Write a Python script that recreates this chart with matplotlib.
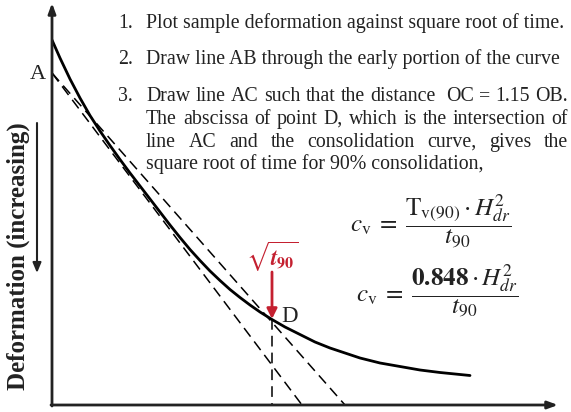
import numpy as np
import matplotlib
matplotlib.use("Agg")
import matplotlib.pyplot as plt

plt.rcParams['font.family'] = ['Liberation Serif', 'DejaVu Serif']
plt.rcParams['mathtext.fontset'] = 'stix'

# Consolidation curve: square root of time vs. deformation (increasing downward)
sqrt_t = [0.00, 0.16, 0.36, 0.56, 0.76, 0.96, 1.16, 1.36, 1.56, 1.76,
          1.96, 2.16, 2.36, 2.56, 2.76, 2.96, 3.16, 3.36, 3.56, 3.76,
          3.96, 4.16, 4.40, 4.66, 4.96, 5.26, 5.56, 5.86, 6.16, 6.56,
          6.96, 7.36, 7.76, 8.36]
deform = [0.80, 1.16, 1.58, 1.96, 2.31, 2.62, 2.91, 3.19, 3.46, 3.72,
          3.98, 4.24, 4.50, 4.75, 4.99, 5.21, 5.42, 5.61, 5.79, 5.95,
          6.10, 6.24, 6.39, 6.54, 6.69, 6.84, 6.96, 7.06, 7.16, 7.26,
          7.33, 7.40, 7.45, 7.51]

# Construction points
A_def = 1.46          # intercept of the straight-line portion on the deformation axis
OB = 5.0              # line AB meets the time axis
OC = 5.86             # line AC meets the time axis
D_point = (4.40, 6.38)
axis_bottom = 8.1

ink = '#222222'
red = '#c42030'

fig = plt.figure(figsize=(5.71, 4.12), dpi=100)

# main axes: origin O sits at the lower-left corner
ax = fig.add_axes([52 / 571, 7 / 412, 519 / 571, 405 / 412])
ax.set_xlim(0, 519 / 50)
ax.set_ylim(405 / 50, 0)
ax.axis('off')

ax.plot(sqrt_t, deform, color='black', lw=2.0, solid_capstyle='round',
        solid_joinstyle='round', zorder=3)

dash = dict(color='black', lw=1.1, dashes=(7, 4))
ax.plot([0, OB], [A_def, axis_bottom], **dash)
ax.plot([0, OC], [A_def, axis_bottom], **dash)
ax.plot([D_point[0], D_point[0]], [D_point[1], axis_bottom], **dash)

# overlay in pixel units for the annotations
ov = fig.add_axes([0, 0, 1, 1], zorder=5)
ov.set_xlim(0, 571)
ov.set_ylim(412, 0)
ov.axis('off')

# axes with arrow heads
ov.annotate('', xy=(52, 3), xytext=(52, 406),
            arrowprops=dict(arrowstyle='-|>,head_length=0.6,head_width=0.22',
                            lw=2.0, color=ink, shrinkA=0, shrinkB=0))
ov.annotate('', xy=(558, 405), xytext=(51, 405),
            arrowprops=dict(arrowstyle='-|>,head_length=0.6,head_width=0.22',
                            lw=2.0, color=ink, shrinkA=0, shrinkB=0))

# deformation label and its arrow
ov.text(18, 256, 'Deformation (increasing)', rotation=90, fontsize=18,
        fontweight='bold', ha='center', va='center', color=ink)
ov.annotate('', xy=(37, 273), xytext=(37, 123),
            arrowprops=dict(arrowstyle='-|>,head_length=0.6,head_width=0.25',
                            lw=1.5, color=ink, shrinkA=0, shrinkB=0))

ov.text(38, 74, 'A', fontsize=16, ha='center', va='center', color=ink)
ov.text(281, 316, 'D', fontsize=16.5, ha='left', va='center', color=ink)

# sqrt(t90) marker
ov.text(272, 257, r'$\sqrt{\mathbfit{t}_{\mathbf{90}}}$', fontsize=16.5,
        ha='center', va='center', color=red)
ov.annotate('', xy=(272, 319), xytext=(272, 272),
            arrowprops=dict(arrowstyle='-|>,head_length=0.6,head_width=0.3',
                            lw=2.0, color=red, shrinkA=0, shrinkB=0))

# procedure text
fs = 14.3
renderer = fig.canvas.get_renderer()


def justify(words, x0, x1, y):
    texts = [ov.text(0, y, w, fontsize=fs, va='baseline', color=ink) for w in words]
    widths = [t.get_window_extent(renderer).width for t in texts]
    gap = (x1 - x0 - sum(widths)) / (len(words) - 1)
    x = x0
    for t, w in zip(texts, widths):
        t.set_x(x)
        x += w + gap


left, right = 146, 568
ov.text(118, 28, '1.', fontsize=fs, va='baseline', color=ink)
ov.text(left, 28, 'Plot sample deformation against square root of time.',
        fontsize=fs, va='baseline', color=ink)
ov.text(118, 64, '2.', fontsize=fs, va='baseline', color=ink)
ov.text(left, 64, 'Draw line AB through the early portion of the curve',
        fontsize=fs, va='baseline', color=ink)
ov.text(118, 101, '3.', fontsize=fs, va='baseline', color=ink)
justify('Draw line AC such that the distance  OC = 1.15 OB.'.split(' '), left, right, 101)
justify('The abscissa of point D, which is the intersection of'.split(), left, right, 124)
justify('line AC and the consolidation curve, gives the'.split(), left, right, 147)
ov.text(left, 169, 'square root of time for 90% consolidation,',
        fontsize=fs, va='baseline', color=ink)

# coefficient of consolidation
ov.text(431, 221, r'$c_{\mathrm{v}}\;=\;\dfrac{\mathrm{T}_{\mathrm{v}(90)}\cdot H_{dr}^{2}}{t_{90}}$',
        fontsize=18, ha='center', va='center', color=ink)
ov.text(437, 291, r'$c_{\mathrm{v}}\;=\;\dfrac{\mathbf{0.848}\cdot H_{dr}^{2}}{t_{90}}$',
        fontsize=18, ha='center', va='center', color=ink)

fig.savefig('out.png', dpi=100)
